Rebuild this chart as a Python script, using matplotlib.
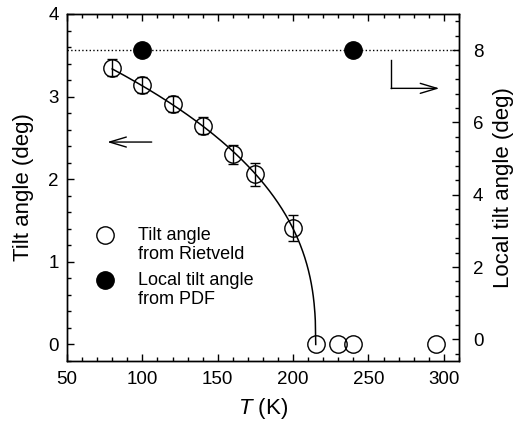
import numpy as np
import matplotlib
matplotlib.use('Agg')
import matplotlib.pyplot as plt
from matplotlib.ticker import MultipleLocator

plt.rcParams['font.family'] = ['Liberation Sans', 'DejaVu Sans']
plt.rcParams['mathtext.fontset'] = 'custom'
plt.rcParams['mathtext.it'] = 'Liberation Sans:italic'
plt.rcParams['mathtext.rm'] = 'Liberation Sans'

# Rietveld tilt angle (left axis)
temp_riet = [80, 100, 120, 140, 160, 175, 200, 215, 230, 240, 295]
tilt_riet = [3.35, 3.14, 2.91, 2.65, 2.30, 2.06, 1.41, 0.0, 0.0, 0.0, 0.0]
tilt_err = [0.10, 0.10, 0.10, 0.10, 0.12, 0.14, 0.16, 0.0, 0.0, 0.0, 0.0]

# local tilt angle from PDF (right axis)
temp_pdf = [100, 240]
tilt_pdf = [8.0, 8.0]

# order-parameter fit, T_c fixed
tc = 215.0
t_fit = np.array(temp_riet[:7], dtype=float)
y_fit = np.array(tilt_riet[:7])
beta, log_a = np.polyfit(np.log(tc - t_fit), np.log(y_fit), 1)
t_curve = np.linspace(80, tc, 500)
y_curve = np.exp(log_a) * (tc - t_curve) ** beta

fig = plt.figure(figsize=(5.18, 4.33), dpi=100)
ax = fig.add_axes([0.1293, 0.1663, 0.7567, 0.8014])
ax2 = ax.twinx()

ax.plot(t_curve, y_curve, '-', color='black', lw=1.1, zorder=2)

# error bars only where an error is given
t_arr = np.array(temp_riet)
y_arr = np.array(tilt_riet)
e_arr = np.array(tilt_err)
has_err = e_arr > 0
ax.errorbar(t_arr[has_err], y_arr[has_err], yerr=e_arr[has_err], fmt='none',
            ecolor='black', elinewidth=1.0, capsize=3.6, capthick=1.0, zorder=3)
ax.plot(t_arr, y_arr, 'o', ms=12.5, mfc='none', mec='black', mew=1.0, zorder=4)

ax2.axhline(8.0, color='black', ls=':', lw=1.0)
ax2.plot(temp_pdf, tilt_pdf, 'o', ms=12.5, color='black')

ax.set_xlim(50, 310)
ax.set_ylim(-0.2, 4)
ax2.set_ylim(-0.6, 9.0)

ax.xaxis.set_major_locator(MultipleLocator(50))
ax.xaxis.set_minor_locator(MultipleLocator(10))
ax.yaxis.set_major_locator(MultipleLocator(1))
ax.yaxis.set_minor_locator(MultipleLocator(0.2))
ax2.yaxis.set_major_locator(MultipleLocator(2))
ax2.yaxis.set_minor_locator(MultipleLocator(0.4))

ax.tick_params(which='both', direction='in', top=True, labelsize=13.5, width=1.0)
ax.tick_params(which='major', length=5)
ax.tick_params(which='minor', length=3)
ax.tick_params(axis='x', pad=7)
ax.tick_params(axis='y', pad=6)
ax2.tick_params(which='both', direction='in', labelsize=13.5, width=1.0, pad=10)
ax2.tick_params(which='major', length=5)
ax2.tick_params(which='minor', length=3)
for a in (ax, ax2):
    for s in a.spines.values():
        s.set_linewidth(1.0)

ax.set_xlabel(r'$T$ (K)', fontsize=16, labelpad=6)
ax.set_ylabel('Tilt angle (deg)', fontsize=16, labelpad=10)
ax2.set_ylabel('Local tilt angle (deg)', fontsize=16, labelpad=7)

# direction arrows
arrow = dict(arrowstyle='->,head_length=0.6,head_width=0.18', color='black',
             lw=1.0, mutation_scale=20, shrinkA=0, shrinkB=0)
ax.annotate('', xy=(76.7, 2.45), xytext=(106.2, 2.45), arrowprops=arrow)
ax.plot([265, 265], [3.44, 3.10], color='black', lw=1.0)
ax.annotate('', xy=(297, 3.10), xytext=(265, 3.10), arrowprops=arrow)

# legend drawn by hand
ax.plot([0.097], [0.363], 'o', ms=12.5, mfc='none', mec='black', mew=1.0,
        transform=ax.transAxes, clip_on=False)
ax.plot([0.097], [0.233], 'o', ms=12.5, color='black',
        transform=ax.transAxes, clip_on=False)
ax.text(0.181, 0.334, 'Tilt angle\nfrom Rietveld', transform=ax.transAxes,
        fontsize=13, va='center', ha='left', linespacing=1.1)
ax.text(0.181, 0.205, 'Local tilt angle\nfrom PDF', transform=ax.transAxes,
        fontsize=13, va='center', ha='left', linespacing=1.1)

fig.savefig('out.png', dpi=100)
